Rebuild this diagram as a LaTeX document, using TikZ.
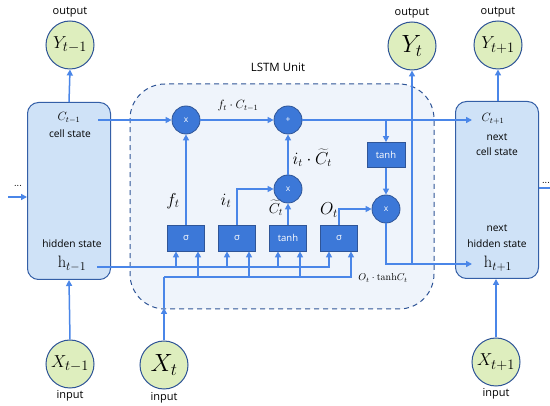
\documentclass[tikz,border=0pt]{standalone}
\usepackage{fontspec}
\setsansfont{Open Sans}
\usetikzlibrary{arrows.meta}
\definecolor{lblue}{RGB}{74,134,232}
\definecolor{nodeblue}{RGB}{60,120,216}
\definecolor{dblue}{RGB}{47,85,151}
\definecolor{cgreen}{RGB}{222,238,190}
\definecolor{boxfill}{RGB}{207,226,247}
\definecolor{unitfill}{RGB}{239,244,251}
\begin{document}
\begin{tikzpicture}[x=1pt,y=-1pt,
  line/.style={draw=lblue, line width=1.5pt},
  arr/.style={line, -{Triangle[length=6pt,width=6pt]}},
  cellbox/.style={draw=dblue!80!lblue, line width=1pt, fill=boxfill, rounded corners=11pt, minimum width=83pt, minimum height=177pt, inner sep=0pt},
  io/.style={circle, draw=dblue, line width=1pt, fill=cgreen, minimum size=48pt, inner sep=0pt, font=\fontsize{19}{19}\selectfont},
  iobig/.style={io, font=\fontsize{24}{24}\selectfont},
  opnode/.style={circle, draw=dblue, line width=0.8pt, fill=nodeblue, minimum size=28pt, inner sep=0pt, text=white, font=\sffamily\fontsize{8.5}{8.5}\selectfont},
  gate/.style={rectangle, draw=dblue, line width=0.8pt, fill=nodeblue, minimum width=37pt, minimum height=26pt, inner sep=0pt, text=white, font=\sffamily\fontsize{9.5}{9.5}\selectfont},
  lbl/.style={font=\sffamily\fontsize{11}{11}\selectfont},
  small/.style={font=\sffamily\fontsize{10.2}{10.2}\selectfont},
  csub/.style={font=\fontsize{12}{12}\selectfont},
  hsub/.style={font=\fontsize{16.5}{16.5}\selectfont},
]
\useasboundingbox (0,0) rectangle (550,406);
\fill[white] (0,0) rectangle (550,406);

% LSTM unit
\node[draw=dblue, dashed, dash pattern=on 5pt off 4pt, line width=1pt, fill=unitfill, rounded corners=35pt, minimum width=304pt, minimum height=225pt, inner sep=0pt] (unit) at (282,196.5) {};
\node[lbl, font=\sffamily\fontsize{11.5}{11.5}\selectfont] (unitlbl) at (278,67) {LSTM Unit};

% cell boxes
\node[cellbox] (L) at (69,191) {};
\node[cellbox] (R) at (497,190) {};

% io circles
\node[io] (Ym1) at (70,45) {$Y_{t-1}$};
\node[iobig] (Yt) at (412,46) {$Y_t$};
\node[io] (Yp1) at (498,45) {$Y_{t+1}$};
\node[io] (Xm1) at (70,364) {$X_{t-1}$};
\node[iobig] (Xt) at (164,365) {$X_t$};
\node[io] (Xp1) at (496,362) {$X_{t+1}$};
\node[lbl] (o1) at (70,12) {output};
\node[lbl] (o2) at (412,13) {output};
\node[lbl] (o3) at (498,12) {output};
\node[lbl] (i1) at (70,396) {input};
\node[lbl] (i2) at (164,398) {input};
\node[lbl] (i3) at (496,394) {input};

% box texts
\node[csub] (cm1) at (69,118) {$C_{t-1}$};
\node[small] (cs1) at (70,134) {cell state};
\node[small] (hs1) at (72,244) {hidden state};
\node[hsub] (hm1) at (72,264) {$\mathrm{h}_{t-1}$};
\node[csub] (cp1) at (493,119) {$C_{t+1}$};
\node[small] (n1) at (497,137) {next};
\node[small] (cs2) at (497,152) {cell state};
\node[small] (n2) at (497,228) {next};
\node[small] (hs2) at (497,244) {hidden state};
\node[hsub] (hp1) at (498,264) {$\mathrm{h}_{t+1}$};
\node[font=\fontsize{7}{7}\selectfont] (dl) at (18,186) {\textbf{...}};
\node[font=\fontsize{7}{7}\selectfont] (dr) at (546,183) {\textbf{...}};

% operation nodes
\node[opnode] (fx) at (186,120) {x};
\node[opnode] (plus) at (288,120) {+};
\node[opnode] (ix) at (288,189) {x};
\node[opnode] (ox) at (386,209) {x};
\node[gate, minimum width=38pt, minimum height=25pt] (tc) at (386,155) {tanh};

% gates
\node[gate] (f) at (186,238) {σ};
\node[gate] (i) at (237,238) {σ};
\node[gate] (g) at (288,238) {tanh};
\node[gate] (o) at (339,238) {σ};

% coordinates
\coordinate (cstart) at (98,120);
\coordinate (cend) at (472,120);
\coordinate (hstart) at (97,267);
\coordinate (hend) at (472,264);
\coordinate (xa) at (164,308);
\coordinate (xj) at (164,277);

% cell state line
\draw[arr] (cstart) -- (fx);
\draw[arr] (fx) -- (plus);
\draw[arr] (plus) -- (cend);
\draw[arr] (tc.north |- plus) -- (tc.north);
\draw[arr] (tc.south) -- (ox.north);
\draw[arr] (ox.south) |- (hend);
\draw[arr] (Yt.south |- hend) -- (Yt.south);

% gate outputs
\draw[arr] (f.north) -- (fx.south);
\draw[arr] (i.north) |- (ix.west);
\draw[arr] (g.north) -- (ix.south);
\draw[arr] (ix.north) -- (plus.south);
\draw[arr] (o.north) |- (ox.west);

% hidden state inputs
\draw[arr] (hstart) -| ([xshift=-10pt]o.south);
\foreach \gg in {f,i,g}{
  \draw[arr] ([xshift=-10pt]\gg.south |- hstart) -- ([xshift=-10pt]\gg.south);
}
% x inputs
\draw[arr] (Xt.north) -- (xa);
\draw[line] (xa) -- (xj);
\draw[arr] (xj) -| ([xshift=12pt]o.south);
\foreach \gg in {f,i,g}{
  \draw[arr] ([xshift=12pt]\gg.south |- xj) -- ([xshift=12pt]\gg.south);
}

% side arrows
\draw[arr] (Xm1.north) -- (L.south);
\draw[arr] (L.north) -- (Ym1.south);
\draw[arr] (Xp1.north) -- (R.south -| Xp1.north);
\draw[arr] (R.north -| Yp1.south) -- (Yp1.south);
\coordinate (lin) at (8,197);
\draw[arr] (lin) -- (L.west |- lin);
\coordinate (rout) at (550,188);
\draw[line] (R.east |- rout) -- (rout);

% math labels
\node[font=\fontsize{12}{12}\selectfont] (lf) at (238,106) {$f_t\cdot C_{t-1}$};
\node[font=\fontsize{16}{16}\selectfont, anchor=west] (lic) at (289,158) {$i_t\cdot\widetilde{C}_t$};
\node[font=\fontsize{17}{17}\selectfont] (lft) at (173,201) {$f_t$};
\node[font=\fontsize{18}{18}\selectfont] (lit) at (226,201) {$i_t$};
\node[font=\fontsize{14}{14}\selectfont] (lct) at (276,208) {$\widetilde{C}_t$};
\node[font=\fontsize{17}{17}\selectfont] (lot) at (329,210) {$O_t$};
\node[font=\fontsize{10}{10}\selectfont] (lotc) at (383,278) {$O_t\cdot\mathrm{tanh}C_t$};
\end{tikzpicture}
\end{document}
